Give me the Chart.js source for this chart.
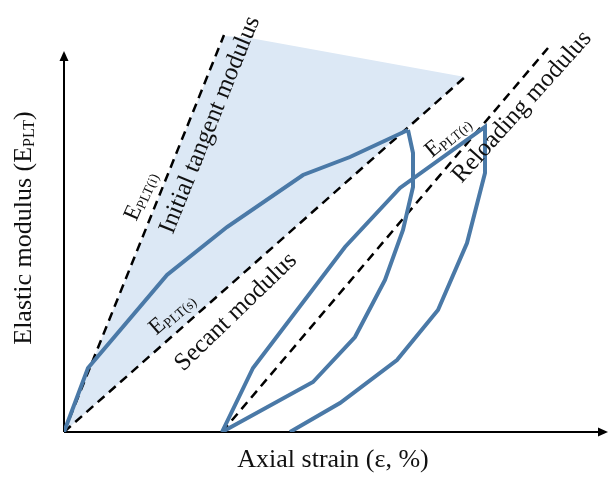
<!DOCTYPE html>
<html>
<head>
<meta charset="utf-8">
<script src="https://cdn.jsdelivr.net/npm/chart.js@4.4.1/dist/chart.umd.min.js"></script>
<style>
	html, body { margin: 0; padding: 0; background: #fff; }
	#wrap { width: 609px; height: 478px; }
</style>
</head>
<body>
<div id="wrap"><canvas id="chart" width="609" height="478"></canvas></div>
<script>
// strain / modulus values, schematic units
const loadX = [0, 2.4, 10.3, 16.3, 23.9, 28.6, 34.4];
const loadY = [0, 6.4, 15.7, 20.5, 25.7, 27.5, 30.2];

const unloadX = [34.4, 34.9, 34.9, 33.9, 32.1, 29.1, 24.9, 15.8];
const unloadY = [30.2, 27.9, 24.5, 20.2, 15.2, 9.5, 5.0, 0];

const reloadX = [15.8, 18.9, 28.1, 33.6, 42.1, 42.1, 40.3, 37.4, 33.3, 27.6, 22.6];
const reloadY = [0, 6.4, 18.5, 24.4, 30.5, 25.9, 18.9, 12.2, 7.2, 2.9, 0];

const tangentX = [0, 16.0];
const tangentY = [0, 39.7];
const secantX = [0, 40.1];
const secantY = [0, 35.5];
const reloadModX = [15.8, 48.4];
const reloadModY = [0, 38.4];

const areaX = [0, 16.0, 18.6, 40.1, 0];
const areaY = [0, 39.6, 39.4, 35.5, 0];

const notes = [
	{main: '', sub: '', text: 'Initial tangent modulus', x: 14.6, y: 30.7, angle: -68},
	{main: 'E', sub: 'PLT(i)', text: '', x: 7.7, y: 23.6, angle: -66},
	{main: 'E', sub: 'PLT(s)', text: '', x: 10.8, y: 11.8, angle: -41},
	{main: '', sub: '', text: 'Secant modulus', x: 17.2, y: 12.0, angle: -44},
	{main: 'E', sub: 'PLT(r)', text: '', x: 38.4, y: 29.5, angle: -40},
	{main: '', sub: '', text: 'Reloading modulus', x: 45.8, y: 32.5, angle: -48},
];

const BLUE = '#4a79a7';
const SERIF = '"Liberation Serif", "DejaVu Serif", serif';

const toPts = (xs, ys) => xs.map((x, i) => ({x: x, y: ys[i]}));

const line = (xs, ys, color, dashed, order) => ({
	data: toPts(xs, ys),
	showLine: true,
	borderColor: color,
	borderWidth: dashed ? 2.5 : 4,
	borderDash: dashed ? [9, 6] : [],
	pointRadius: 0,
	tension: 0,
	fill: false,
	order: order,
});

// draws E with a small subscript, centred at 0,0
function drawSubText(ctx, main, sub, tail, size) {
	const big = size + 'px ' + SERIF;
	const small = Math.round(size * 0.62) + 'px ' + SERIF;
	ctx.font = big;
	const w1 = ctx.measureText(main).width;
	const w3 = ctx.measureText(tail).width;
	ctx.font = small;
	const w2 = ctx.measureText(sub).width;
	let x = -(w1 + w2 + w3) / 2;
	ctx.textBaseline = 'middle';
	ctx.textAlign = 'left';
	ctx.font = big;
	ctx.fillText(main, x, 0);
	x += w1;
	ctx.font = small;
	ctx.fillText(sub, x, size * 0.22);
	x += w2;
	ctx.font = big;
	ctx.fillText(tail, x, 0);
}

const decor = {
	id: 'decor',
	beforeDatasetsDraw(chart) {
		const {ctx} = chart;
		const xs = chart.scales.x, ys = chart.scales.y;
		const ox = xs.getPixelForValue(0), oy = ys.getPixelForValue(0);
		ctx.save();
		ctx.strokeStyle = '#000';
		ctx.fillStyle = '#000';
		ctx.lineWidth = 2;
		ctx.beginPath();
		ctx.moveTo(ox, oy);
		ctx.lineTo(600, oy);
		ctx.moveTo(ox, oy);
		ctx.lineTo(ox, 60);
		ctx.stroke();
		// arrow heads
		ctx.beginPath();
		ctx.moveTo(608, oy);
		ctx.lineTo(598, oy - 4.5);
		ctx.lineTo(598, oy + 4.5);
		ctx.closePath();
		ctx.fill();
		ctx.beginPath();
		ctx.moveTo(ox, 51);
		ctx.lineTo(ox - 4.5, 61);
		ctx.lineTo(ox + 4.5, 61);
		ctx.closePath();
		ctx.fill();
		ctx.restore();
	},
	afterDraw(chart) {
		const {ctx} = chart;
		const xs = chart.scales.x, ys = chart.scales.y;
		ctx.save();
		ctx.fillStyle = '#111';
		notes.forEach(n => {
			ctx.save();
			ctx.translate(xs.getPixelForValue(n.x), ys.getPixelForValue(n.y));
			ctx.rotate(n.angle * Math.PI / 180);
			if (n.text) {
				ctx.font = '25px ' + SERIF;
				ctx.textAlign = 'center';
				ctx.textBaseline = 'middle';
				ctx.fillText(n.text, 0, 0);
			} else {
				drawSubText(ctx, n.main, n.sub, '', 23);
			}
			ctx.restore();
		});

		// axis titles
		ctx.font = '26px ' + SERIF;
		ctx.textAlign = 'center';
		ctx.textBaseline = 'middle';
		ctx.fillText('Axial strain (\u03b5, %)', 333, 460);

		ctx.save();
		ctx.translate(24, 228);
		ctx.rotate(-Math.PI / 2);
		drawSubText(ctx, 'Elastic modulus (E', 'PLT', ')', 26);
		ctx.restore();
		ctx.restore();
	}
};

const chart = new Chart(document.getElementById('chart').getContext('2d'), {
	type: 'scatter',
	data: {
		datasets: [
			{
				data: toPts(areaX, areaY),
				showLine: true,
				borderWidth: 0,
				borderColor: 'rgba(0,0,0,0)',
				backgroundColor: '#dce8f5',
				pointRadius: 0,
				tension: 0,
				fill: 'shape',
				order: 10,
			},
			line(tangentX, tangentY, '#000', true, 5),
			line(secantX, secantY, '#000', true, 5),
			line(reloadModX, reloadModY, '#000', true, 5),
			line(loadX, loadY, BLUE, false, 1),
			line(unloadX, unloadY, BLUE, false, 1),
			line(reloadX, reloadY, BLUE, false, 1),
		]
	},
	options: {
		responsive: false,
		animation: false,
		layout: {padding: {left: 64, right: 0, top: 32, bottom: 46}},
		plugins: {legend: {display: false}, tooltip: {enabled: false}},
		scales: {
			x: {type: 'linear', min: 0, max: 54.5, display: false},
			y: {type: 'linear', min: 0, max: 40, display: false},
		}
	},
	plugins: [decor]
});
</script>
</body>
</html>
